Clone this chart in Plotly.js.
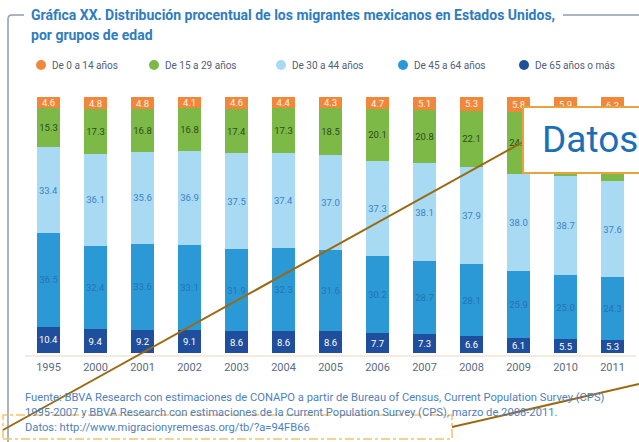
<!DOCTYPE html>
<html><head><meta charset="utf-8">
<script src="https://cdn.plot.ly/plotly-3.0.1.min.js"></script>
<style>html,body{margin:0;padding:0;background:#fff}#c{width:639px;height:442px}</style>
</head><body><div id="c"></div>
<script>
var years = ['1995','2000','2001','2002','2003','2004','2005','2006','2007','2008','2009','2010','2011'];
var age0_14  = [4.6,4.8,4.8,4.1,4.6,4.4,4.3,4.7,5.1,5.3,5.8,5.9,6.3];
var age15_29 = [15.3,17.3,16.8,16.8,17.4,17.3,18.5,20.1,20.8,22.1,24.2,24.9,26.5];
var age30_44 = [33.4,36.1,35.6,36.9,37.5,37.4,37.0,37.3,38.1,37.9,38.0,38.7,37.6];
var age45_64 = [36.5,32.4,33.6,33.1,31.9,32.3,31.6,30.2,28.7,28.1,25.9,25.0,24.3];
var age65    = [10.4,9.4,9.2,9.1,8.6,8.6,8.6,7.7,7.3,6.6,6.1,5.5,5.3];
var seriesNames = ['De 0 a 14 años','De 15 a 29 años','De 30 a 44 años','De 45 a 64 años','De 65 años o más'];
var seriesColors = ['#f0873a','#7cb947','#a9daf3','#2b99d6','#1f4f9c'];
var labelColors = ['#fff4e8','#2f4a1a','#3b82c4','#2673b4','#ffffff'];
var titleLines = ['Gráfica XX. Distribución procentual de los migrantes mexicanos en Estados Unidos,','por grupos de edad'];
var sourceLines = ['Fuente: BBVA Research con estimaciones de CONAPO a partir de Bureau of Census, Current Population Survey (CPS)',
 '1995-2007 y BBVA Research con estimaciones de la Current Population Survey (CPS), marzo de 2008-2011.',
 'Datos: http://www.migracionyremesas.org/tb/?a=94FB66'];
var calloutText = 'Datos';

var W=639,H=442,ML=25,MR=3,MT=97,MB=85;
var PW=W-ML-MR, PH=H-MT-MB;
function px(x){return (x-ML)/PW;}
function py(y){return (H-MB-y)/PH;}

var data = [age0_14,age15_29,age30_44,age45_64,age65];
var traces=[];
for (var i=4;i>=0;i--){
  traces.push({type:'bar',x:years,y:data[i],name:seriesNames[i],
    marker:{color:seriesColors[i],line:{width:0}},
    text:data[i].map(function(v){return v.toFixed(1);}),
    textposition:'inside',insidetextanchor:'middle',constraintext:'none',textangle:0,
    textfont:{family:'Roboto, sans-serif',size:9.5,color:labelColors[i]},
    hoverinfo:'skip',showlegend:false});
}

var shapes=[], ann=[];
// frame
shapes.push({type:'path',xref:'paper',yref:'paper',
  path:'M '+px(24)+' '+py(15)+' L '+px(12)+' '+py(15)+' Q '+px(8)+' '+py(15)+' '+px(8)+' '+py(19)+' L '+px(8)+' '+py(442),
  line:{color:'#8f9db0',width:1.5}});
shapes.push({type:'line',xref:'paper',yref:'paper',x0:px(563),x1:px(639),y0:py(15),y1:py(15),line:{color:'#8f9db0',width:1.5}});
// baseline
shapes.push({type:'line',xref:'paper',yref:'paper',x0:0,x1:1,y0:py(356),y1:py(356),line:{color:'#e9d6bf',width:1.2}});
// legend
var legX=[41,154,281,403,524];
for (var k=0;k<5;k++){
  shapes.push({type:'circle',xref:'paper',yref:'paper',x0:px(legX[k]-5),x1:px(legX[k]+5),y0:py(70),y1:py(60),
    fillcolor:seriesColors[k],line:{width:0}});
  ann.push({xref:'paper',yref:'paper',x:px(legX[k]+9),y:py(65),xanchor:'left',yanchor:'middle',showarrow:false,
    text:seriesNames[k],font:{family:'Roboto, sans-serif',size:10,color:'#50607a'}});
}
// title
ann.push({xref:'paper',yref:'paper',x:px(29),y:py(15),xanchor:'left',yanchor:'middle',showarrow:false,
  text:'<b>'+titleLines[0]+'</b>',font:{family:'Roboto, sans-serif',size:14,color:'#2f7cc0'}});
ann.push({xref:'paper',yref:'paper',x:px(29),y:py(35),xanchor:'left',yanchor:'middle',showarrow:false,
  text:'<b>'+titleLines[1]+'</b>',font:{family:'Roboto, sans-serif',size:14,color:'#2f7cc0'}});
// source
var sy=[397,412,427];
for (var s=0;s<3;s++){
  ann.push({xref:'paper',yref:'paper',x:px(23),y:py(sy[s]),xanchor:'left',yanchor:'middle',showarrow:false,
    text:sourceLines[s],font:{family:'Roboto, sans-serif',size:11.2,color:'#4f7fbf'}});
}
// dashed box
shapes.push({type:'rect',xref:'paper',yref:'paper',x0:px(3),x1:px(452),y0:py(439),y1:py(415),
  line:{color:'#f5c46b',width:1.5,dash:'dashdot'},fillcolor:'rgba(0,0,0,0)'});
// callout lines
shapes.push({type:'line',xref:'paper',yref:'paper',x0:px(523),y0:py(142),x1:px(3),y1:py(430),line:{color:'#9a6a12',width:2}});
shapes.push({type:'line',xref:'paper',yref:'paper',x0:px(452),y0:py(427),x1:px(639),y1:py(384),line:{color:'#9a6a12',width:2}});
// callout box
shapes.push({type:'rect',xref:'paper',yref:'paper',x0:px(523),x1:px(645),y0:py(173),y1:py(107),
  line:{color:'#e8a33c',width:2},fillcolor:'#ffffff'});
ann.push({xref:'paper',yref:'paper',x:px(540),y:py(139),xanchor:'left',yanchor:'middle',showarrow:false,
  text:calloutText,font:{family:'Roboto, sans-serif',size:37,color:'#1a70b8'}});

var layout={width:W,height:H,margin:{l:ML,r:MR,t:MT,b:MB},paper_bgcolor:'#fff',plot_bgcolor:'#fff',
  barmode:'stack',bargap:0.5,showlegend:false,
  xaxis:{type:'category',showgrid:false,zeroline:false,showline:false,ticks:'',
    tickfont:{family:'Roboto, sans-serif',size:11,color:'#5b6b82'},ticklabelstandoff:2},
  yaxis:{range:[-1.5,100],showgrid:false,zeroline:false,showline:false,showticklabels:false,ticks:''},
  shapes:shapes,annotations:ann};
Plotly.newPlot('c',traces,layout,{staticPlot:true});
</script></body></html>
